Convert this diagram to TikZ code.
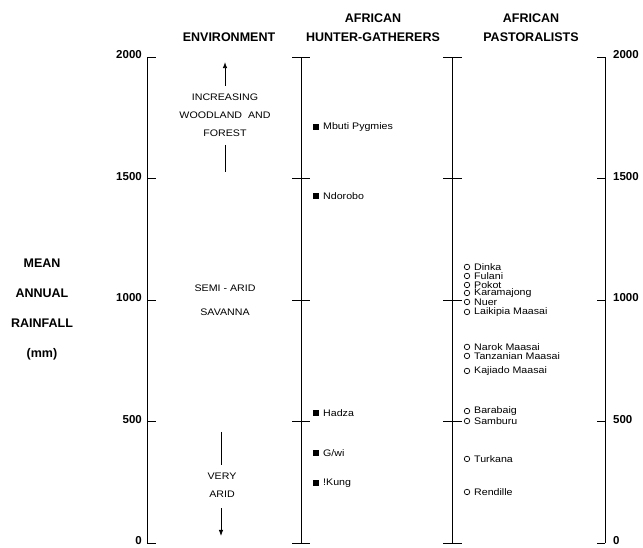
\documentclass[tikz,border=0pt]{standalone}
\usepackage{fontspec}
\setmainfont{Liberation Sans}
\newfontfamily\widefont[FakeStretch=1.12]{Liberation Sans}
\usetikzlibrary{arrows.meta}
\tikzstyle{axis}=[line width=1pt]
\tikzstyle{hg}=[rectangle, fill=black, inner sep=0pt, minimum size=6pt]
\tikzstyle{past}=[circle, draw, line width=0.7pt, inner sep=0pt, minimum size=5.5pt]
\tikzstyle{head}=[font=\bfseries\fontsize{12.5}{19}\selectfont, align=center, inner sep=0pt]
\tikzstyle{num}=[font=\bfseries\fontsize{11.5}{14}\selectfont, inner sep=0pt, yshift=2pt]
\tikzstyle{env}=[font=\widefont\fontsize{9.5}{18}\selectfont, align=center, inner sep=0pt]
\tikzstyle{tribe}=[font=\widefont\fontsize{9.5}{10}\selectfont, anchor=west, inner sep=0pt]
\tikzstyle{envarrow}=[line width=0.8pt, -{Latex[length=6pt,width=4.5pt]}]

\begin{document}
\begin{tikzpicture}[x=1pt, y=0.243pt]
	\useasboundingbox (0,-16.5) rectangle (643,2234.6);
	% column headers
	\node[head] (henv) at (229,2082) {ENVIRONMENT};
	\node[head] (hhg) at (373,2121) {AFRICAN\\HUNTER-GATHERERS};
	\node[head] (hpast) at (531,2121) {AFRICAN\\PASTORALISTS};
	\node[head, align=center, font=\bfseries\fontsize{12.5}{30}\selectfont] (ylab) at (42,960) {MEAN\\ANNUAL\\RAINFALL\\(mm)};
	% axes
	\coordinate (L0) at (147,0); \coordinate (L1) at (147,2000);
	\coordinate (M0) at (301,0); \coordinate (M1) at (301,2000);
	\coordinate (P0) at (452,0); \coordinate (P1) at (452,2000);
	\coordinate (R0) at (605,0); \coordinate (R1) at (605,2000);
	\draw[axis] (L0)--(L1) (M0)--(M1) (P0)--(P1) (R0)--(R1);
	\foreach \v in {0,500,...,2000} {
		\draw[axis] (147,\v) -- ++(9,0);
		\draw[axis] (292,\v) -- ++(18,0);
		\draw[axis] (443,\v) -- ++(19,0);
		\draw[axis] (605,\v) -- ++(-8,0);
		\node[num, anchor=east] (nl\v) at (142,\v) {\v};
		\node[num, anchor=west] (nr\v) at (613,\v) {\v};
	}
	% environment
	\node[env] (wood) at (225,1761) {INCREASING\\WOODLAND \ AND\\FOREST};
	\coordinate (uptail) at (225,1881); \coordinate (uptip) at (225,1979);
	\coordinate (wtop) at (225,1638); \coordinate (wbot) at (225,1527);
	\draw[envarrow] (uptail)--(uptip);
	\draw[line width=0.8pt] (wtop)--(wbot);
	\node[env, font=\widefont\fontsize{9.5}{24}\selectfont] (sav) at (225,1000) {SEMI - ARID\\SAVANNA};
	\node[env] (arid) at (222,237) {VERY\\ARID};
	\coordinate (atop) at (221,457); \coordinate (abot) at (221,321);
	\coordinate (dntail) at (221,144); \coordinate (dntip) at (221,29);
	\draw[line width=0.8pt] (atop)--(abot);
	\draw[envarrow] (dntail)--(dntip);
	% hunter-gatherers
	\foreach \v/\t [count=\i] in {1712/Mbuti Pygmies, 1428/Ndorobo, 535/Hadza, 370/{G/wi}, 247/!Kung} {
		\node[hg] (h\i) at (316,\v) {};
		\node[tribe] (ht\i) at (323,\v) {\t};
	}
	% pastoralists
	\foreach \v/\t [count=\i] in {1136/Dinka, 1099/Fulani, 1062/Pokot, 1029/Karamajong, 992/Nuer,
		951/Laikipia Maasai, 807/Narok Maasai, 770/Tanzanian Maasai, 708/Kajiado Maasai,
		543/Barabaig, 502/Samburu, 346/Turkana, 210/Rendille} {
		\node[past] (p\i) at (467,\v) {};
		\node[tribe] (pt\i) at (474,\v) {\t};
	}
\end{tikzpicture}
\end{document}
